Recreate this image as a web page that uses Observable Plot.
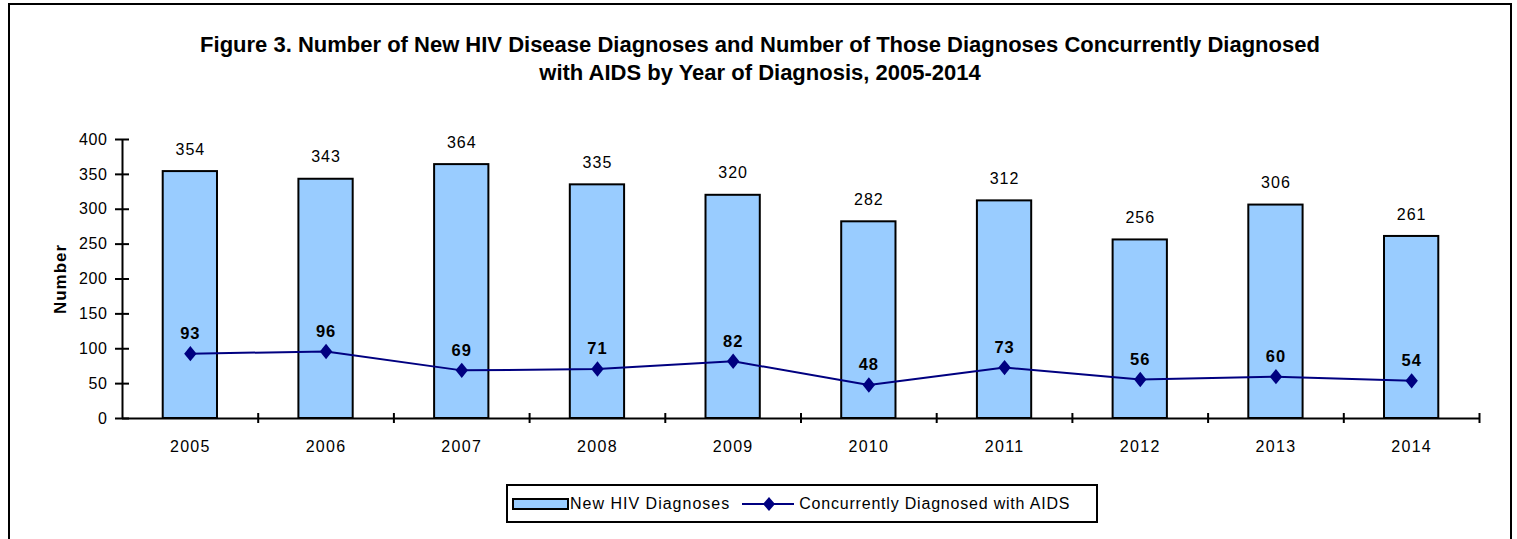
<!DOCTYPE html>
<html>
<head>
<meta charset="utf-8">
<script src="https://cdn.jsdelivr.net/npm/d3@7"></script>
<script src="https://cdn.jsdelivr.net/npm/@observablehq/plot@0.6"></script>
<style>
  html, body { margin: 0; padding: 0; background: #fff; }
  #page { position: relative; width: 1517px; height: 539px; overflow: hidden; font-family: "Liberation Sans", Arial, sans-serif; }
  #frame { position: absolute; left: 8px; top: 3px; width: 1504px; height: 600px; border: 2px solid #000; box-sizing: border-box; }
  #title { position: absolute; left: 0; top: 31px; width: 1520px; text-align: center; font-weight: bold; font-size: 22px; line-height: 28px; letter-spacing: 0px; color: #000; }
  #chart { position: absolute; left: 0; top: 110px; }
  #chart svg text { letter-spacing: 1px; }
  #chart g[aria-label="y-axis tick label"] text { letter-spacing: 0.6px; }
  #chart g[aria-label="x-axis tick label"] text { letter-spacing: 1.3px; }
  #legend { position: absolute; left: 506px; top: 484px; width: 592px; height: 39px; border: 2px solid #000; box-sizing: border-box; display: flex; align-items: center; font-size: 16px; color: #000; }
  .sw { display: inline-block; width: 53px; height: 8px; background: #99CCFF; border: 2px solid #000; margin-left: 4px; }
  .lbl { margin-left: 1px; letter-spacing: 1px; }
</style>
</head>
<body>
<div id="page">
  <div id="frame"></div>
  <div id="title">Figure 3. Number of New HIV Disease Diagnoses and Number of Those Diagnoses Concurrently Diagnosed<br>with AIDS by Year of Diagnosis, 2005-2014</div>
  <div id="chart"></div>
  <div id="legend"></div>
</div>
<script>
const years = [2005, 2006, 2007, 2008, 2009, 2010, 2011, 2012, 2013, 2014];
const newHIV = [354, 343, 364, 335, 320, 282, 312, 256, 306, 261];
const concurrentAIDS = [93, 96, 69, 71, 82, 48, 73, 56, 60, 54];
const yTicks = [0, 50, 100, 150, 200, 250, 300, 350, 400];
const seriesNames = ["New HIV Diagnoses", "Concurrently Diagnosed with AIDS"];
const yLabel = "Number";

const barColor = "#99CCFF";
const lineColor = "#000080";

const data = years.map((y, i) => ({year: y, hiv: newHIV[i], aids: concurrentAIDS[i]}));
const boundaries = [years[0] - 0.5, ...years.map(y => y + 0.5)];

const tallDiamond = {
  draw(context, size) {
    const w = Math.sqrt(size) * 0.5, h = Math.sqrt(size) * 0.62;
    context.moveTo(0, -h); context.lineTo(w, 0); context.lineTo(0, h); context.lineTo(-w, 0); context.closePath();
  }
};

const chart = Plot.plot({
  width: 1517,
  height: 362,
  marginLeft: 122,
  marginRight: 38,
  marginTop: 29,
  marginBottom: 54,
  style: {fontFamily: "'Liberation Sans', Arial, sans-serif", fontSize: "16px", color: "#000", background: "transparent"},
  x: {type: "linear", domain: [years[0] - 0.5, years[years.length - 1] + 0.5]},
  y: {domain: [0, 400]},
  marks: [
    Plot.rectY(data, {x1: d => d.year - 0.2, x2: d => d.year + 0.2, y1: 0, y2: "hiv", fill: barColor, stroke: "#000", strokeWidth: 2}),
    Plot.text(data, {x: "year", y: "hiv", text: d => String(d.hiv), dy: -22, fontSize: 16, fill: "#000"}),
    Plot.line(data, {x: "year", y: "aids", stroke: lineColor, strokeWidth: 2}),
    Plot.dot(data, {x: "year", y: "aids", symbol: tallDiamond, r: 7, fill: lineColor, stroke: "none"}),
    Plot.text(data, {x: "year", y: "aids", text: d => String(d.aids), dy: -20, fontSize: 16.5, fontWeight: "bold", fill: "#000"}),
    Plot.ruleY([0], {stroke: "#000", strokeWidth: 2}),
    Plot.ruleX([years[0] - 0.5], {y1: 0, y2: 400, stroke: "#000", strokeWidth: 2}),
    Plot.axisY({ticks: yTicks, tickSize: 14, dx: 7, tickPadding: 8, strokeWidth: 2, fontSize: 16, label: null, tickFormat: d => String(d)}),
    Plot.axisX({ticks: boundaries.slice(1), tickSize: 10, dy: -5, strokeWidth: 2, tickFormat: () => "", label: null}),
    Plot.axisX({ticks: years, tickSize: 0, tickPadding: 22, fontSize: 16, label: null, tickFormat: d => String(d)}),
    Plot.text([yLabel], {x: years[0] - 0.5, y: 200, rotate: -90, dx: -62, fontWeight: "bold", fontSize: 17, fill: "#000"})
  ]
});
document.getElementById("chart").appendChild(chart);

// legend
const legend = document.getElementById("legend");
const sw = document.createElement("span"); sw.className = "sw"; legend.appendChild(sw);
const l1 = document.createElement("span"); l1.className = "lbl"; l1.textContent = seriesNames[0]; legend.appendChild(l1);
const ns = "http://www.w3.org/2000/svg";
const ls = document.createElementNS(ns, "svg");
ls.setAttribute("width", 52); ls.setAttribute("height", 16); ls.style.marginLeft = "12px";
ls.innerHTML = `<line x1="0" y1="8" x2="52" y2="8" stroke="${lineColor}" stroke-width="2"/><path d="M27,1 L33,8 L27,15 L21,8 Z" fill="${lineColor}"/>`;
legend.appendChild(ls);
const l2 = document.createElement("span"); l2.className = "lbl"; l2.style.marginLeft = "5px"; l2.style.letterSpacing = "0.8px"; l2.textContent = seriesNames[1]; legend.appendChild(l2);
</script>
</body>
</html>
